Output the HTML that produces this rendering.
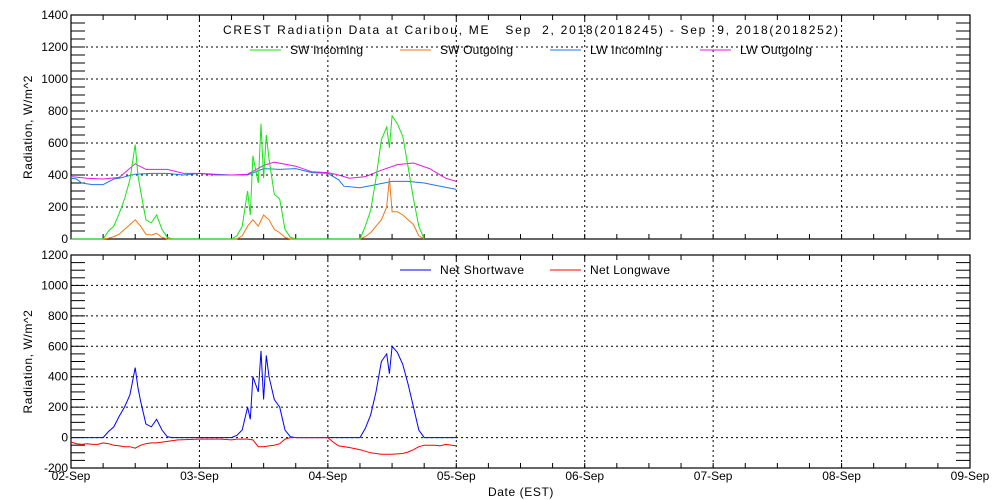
<!DOCTYPE html>
<html><head><meta charset="utf-8"><style>
body{margin:0;background:#fff;}
svg{display:block;font-family:"Liberation Sans",sans-serif;font-size:12px;}
</style></head><body>
<svg id="chart" width="1000" height="500" xmlns="http://www.w3.org/2000/svg"></svg>
<script>
// ---- data (hours since 02-Sep 00:00 EST) ----
const dayLabels=["02-Sep","03-Sep","04-Sep","05-Sep","06-Sep","07-Sep","08-Sep","09-Sep"];
const topTicks=[0,200,400,600,800,1000,1200,1400];
const botTicks=[-200,0,200,400,600,800,1000,1200];
const swInT=[0,6,7,8,9,10,11,12,12.5,13,14,15,16,17,18,19,30,31,32,33,33.5,34,35,35.5,36,36.5,37,38,39,40,41,42,54,55,56,57,58,59,59.5,60,61,62,63,64,65,66];
const swInV=[0,0,50,80,160,250,370,590,400,300,120,100,150,60,10,0,0,20,80,300,150,520,350,720,380,650,500,280,250,60,10,0,0,80,180,380,620,700,570,770,720,640,450,250,80,0];
const swOutT=[6,7,8,9,10,11,12,13,14,15,16,17,18,31,32,33,34,35,36,37,38,39,40,41,54,55,56,57,58,59,59.5,60,61,62,63,64,65,66];
const swOutV=[0,5,15,30,60,90,120,80,30,25,35,10,0,0,20,80,120,80,150,120,60,40,10,0,0,15,40,80,120,200,380,170,170,150,120,90,20,0];
const lwInT=[0,1,2,4,6,8,9,12,15,18,21,24,27,30,33,36,39,42,45,48,50,51,54,57,60,63,66,69,72];
const lwInV=[380,375,350,340,340,375,380,405,410,410,400,410,405,400,400,440,435,440,415,410,370,330,320,340,360,360,350,330,310];
const lwOutT=[0,3,6,9,12,14,18,21,24,27,30,33,36,38,42,45,48,50,52,55,58,61,64,67,70,72];
const lwOutV=[390,380,375,385,470,435,435,410,410,400,400,405,460,480,455,420,415,400,380,390,430,465,475,440,380,360];
const netSwT=[0,6,7,8,9,10,11,12,12.5,13,14,15,16,17,18,19,30,31,32,33,33.5,34,35,35.5,36,36.5,37,38,39,40,41,42,54,55,56,57,58,59,59.5,60,61,62,63,64,65,66,72];
const netSwV=[0,0,40,70,140,200,280,460,330,240,90,70,120,50,5,0,0,15,50,200,120,400,300,570,250,540,400,250,200,50,5,0,0,60,150,300,500,550,420,600,560,480,350,200,50,0,0];
const netLwT=[0,1,2,3,4,5,6,7,8,9,10,11,12,13,14,15,16,17,18,19,20,24,28,30,31,33,34,35,36,37,38,39,40,41,48,49,50,52,54,56,58,60,62,63,64,65,66,68,69,70,72];
const netLwV=[-30,-40,-45,-40,-45,-45,-35,-40,-50,-55,-60,-60,-70,-50,-40,-35,-35,-30,-25,-20,-15,-10,-10,-15,-10,-10,-15,-60,-60,-55,-50,-40,-10,0,0,-30,-55,-65,-80,-100,-110,-110,-105,-95,-80,-60,-50,-50,-55,-45,-55];

const NS="http://www.w3.org/2000/svg";
const svg=document.getElementById('chart');
function mk(tag,attrs,parent){const e=document.createElementNS(NS,tag);for(const k in attrs)e.setAttribute(k,attrs[k]);(parent||svg).appendChild(e);return e;}
const X0=71,X1=970;
const xs=h=>X0+h*(X1-X0)/(7*24);

function panel(name,top,bot,vmin,vmax,ticks){
  const ys=v=>bot-(v-vmin)*(bot-top)/(vmax-vmin);
  const g=mk('g',{});
  
  
  ticks.forEach(t=>{if(t>vmin&&t<vmax){const l=mk('line',{x1:X0,x2:X1,y1:ys(t),y2:ys(t),stroke:'#000','stroke-width':1,'stroke-dasharray':'2,3'},g);}});
  for(let d=1;d<7;d++){const l=mk('line',{x1:xs(d*24),x2:xs(d*24),y1:top,y2:bot,stroke:'#000','stroke-width':1,'stroke-dasharray':'2,3'},g);}
  for(let v=vmin;v<=vmax;v+=50){const y=ys(v);
    mk('line',{x1:X0,x2:X0+14,y1:y,y2:y,stroke:'#000'},g);
    mk('line',{x1:X1-14,x2:X1,y1:y,y2:y,stroke:'#000'},g);}
  for(let h=0;h<=168;h+=6){const x=xs(h);
    mk('line',{x1:x,x2:x,y1:bot,y2:bot-5,stroke:'#000'},g);
    mk('line',{x1:x,x2:x,y1:top,y2:top+5,stroke:'#000'},g);}
  const fr=mk('rect',{x:X0,y:top,width:X1-X0,height:bot-top,fill:'none',stroke:'#000','stroke-width':1.2},g);
  
  ticks.forEach(t=>{const tx=mk('text',{x:X0-3,y:ys(t)+4,'text-anchor':'end'},g);tx.textContent=t;
    });
  const yl=mk('text',{x:0,y:0,'text-anchor':'middle',transform:`translate(32,${(top+bot)/2}) rotate(-90)`,'letter-spacing':'0.6'},g);
  yl.textContent='Radiation, W/m^2';
  
  return ys;
}
function series(name,T,V,ys,color){
  const p=mk('polyline',{points:T.map((t,i)=>xs(t).toFixed(1)+','+ys(V[i]).toFixed(1)).join(' '),fill:'none',stroke:color,'stroke-width':1});
  
  
}
function legend(name,x,y,label,color,w){
  const g=mk('g',{});
  
  
  mk('line',{x1:x,x2:x+31,y1:y,y2:y,stroke:color},g);
  const t=mk('text',{x:x+40,y:y+4,textLength:w,lengthAdjust:'spacing'},g);t.textContent=label;
}

const ysT=panel('top-panel',15,239,0,1400,topTicks);
series('lw-incoming-line',lwInT,lwInV,ysT,'#1e78e6');
series('lw-outgoing-line',lwOutT,lwOutV,ysT,'#e619e6');
series('sw-outgoing-line',swOutT,swOutV,ysT,'#f07814');
series('sw-incoming-line',swInT,swInV,ysT,'#14e614');
const tt=mk('text',{x:223,y:34,textLength:615,lengthAdjust:'spacing'});
tt.setAttribute('xml:space','preserve');tt.style.whiteSpace='pre';
tt.textContent='CREST Radiation Data at Caribou, ME   Sep  2, 2018(2018245) - Sep  9, 2018(2018252)';

legend('legend-sw-incoming',250,50,'SW Incoming','#14e614',73);
legend('legend-sw-outgoing',400,50,'SW Outgoing','#f07814',73);
legend('legend-lw-incoming',550,50,'LW Incoming','#1e78e6',72);
legend('legend-lw-outgoing',700,50,'LW Outgoing','#e619e6',72);

const ysB=panel('bottom-panel',255,468,-200,1200,botTicks);
series('net-shortwave-line',netSwT,netSwV,ysB,'#0000ff');
series('net-longwave-line',netLwT,netLwV,ysB,'#ff0000');
legend('legend-net-shortwave',400,270,'Net Shortwave','#0000ff',84);
legend('legend-net-longwave',550,270,'Net Longwave','#ff0000',80);

dayLabels.forEach((d,i)=>{const t=mk('text',{x:xs(i*24),y:480,'text-anchor':'middle'});t.textContent=d;
  });
const xt=mk('text',{x:521,y:496,'text-anchor':'middle','letter-spacing':'0.6'});xt.textContent='Date (EST)';

</script>
</body></html>
